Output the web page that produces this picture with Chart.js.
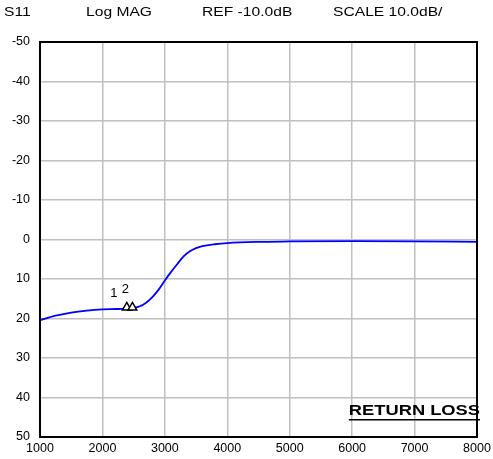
<!DOCTYPE html>
<html>
<head>
<meta charset="utf-8">
<script src="https://cdn.jsdelivr.net/npm/chart.js@4.4.1/dist/chart.umd.min.js"></script>
<style>
  body { margin: 0; background: #fff; }
  #c { display: block; }
</style>
</head>
<body>
<canvas id="c" width="493" height="459"></canvas>
<script>
// S11 trace, frequency (MHz) vs dB
const freqs  = [1000,1250,1500,1750,2000,2250,2500,2600,2700,2800,2900,3000,3100,3200,3300,3400,3500,3600,3800,4000,4500,5000,6000,7000,8000];
const s11    = [20.4,19.3,18.5,18.0,17.7,17.6,17.3,16.9,16.0,14.6,12.7,10.4,8.2,6.2,4.3,3.0,2.2,1.7,1.2,0.9,0.6,0.5,0.4,0.45,0.6];

const markerFreqs  = [2390, 2480];
const markerVals   = [17.2, 17.2];
const markerLabels = ["1", "2"];

const headerTexts = ["S11", "Log MAG", "REF -10.0dB", "SCALE 10.0dB/"];
const yTicks = [-50,-40,-30,-20,-10,0,10,20,30,40,50];
const xTicks = [1000,2000,3000,4000,5000,6000,7000,8000];

const font = "'Liberation Sans', Arial, sans-serif";

// header, box, marker numbers and the RETURN LOSS tag
const annot = {
  id: "annot",
  afterDraw(chart){
    const ctx = chart.ctx;
    const a = chart.chartArea;
    ctx.save();
    ctx.strokeStyle = "#000";
    ctx.lineWidth = 2;
    ctx.strokeRect(a.left, a.top, a.right - a.left, a.bottom - a.top);

    ctx.fillStyle = "#000";
    ctx.textBaseline = "middle";
    ctx.textAlign = "left";
    const hx = [4, 86, 202, 333];
    headerTexts.forEach((t, i) => {
      ctx.save();
      ctx.translate(hx[i], 13);
      ctx.scale(1.25, 1);
      ctx.font = "12.5px " + font;
      ctx.fillText(t, 0, 0);
      ctx.restore();
    });

    // marker numbers
    const meta = chart.getDatasetMeta(1);
    const offs = [[-13, -14], [-7, -18]];
    ctx.font = "13px " + font;
    ctx.textAlign = "center";
    meta.data.forEach((p, i) => {
      ctx.fillText(markerLabels[i], p.x + offs[i][0], p.y + offs[i][1]);
    });

    // RETURN LOSS
    ctx.save();
    ctx.translate(480, 411);
    ctx.scale(1.22, 1);
    ctx.font = "bold 15px " + font;
    ctx.textAlign = "right";
    ctx.fillText("RETURN LOSS", 0, 0);
    const w = ctx.measureText("RETURN LOSS").width;
    ctx.fillRect(-w, 8, w, 1.5);
    ctx.restore();
    ctx.restore();
  }
};

new Chart(document.getElementById("c"), {
  type: "line",
  data: {
    datasets: [
      {
        data: freqs.map((f, i) => ({ x: f, y: s11[i] })),
        borderColor: "#0000ff",
        borderWidth: 1.8,
        pointRadius: 0,
        cubicInterpolationMode: "monotone",
        fill: false,
        order: 2
      },
      {
        type: "scatter",
        data: markerFreqs.map((f, i) => ({ x: f, y: markerVals[i] })),
        pointStyle: "triangle",
        pointRadius: 5,
        backgroundColor: "#fff",
        borderColor: "#000",
        borderWidth: 1.5,
        order: 1
      }
    ]
  },
  options: {
    responsive: false,
    animation: false,
    layout: { padding: { top: 42, right: 16, left: 0, bottom: 0 } },
    plugins: { legend: { display: false }, tooltip: { enabled: false } },
    scales: {
      x: {
        type: "linear",
        min: 1000, max: 8000,
        afterBuildTicks: s => { s.ticks = xTicks.map(v => ({ value: v })); },
        afterFit: s => { s.height = 22; s.paddingLeft = 0; s.paddingRight = 0; },
        grid: { color: "#c0c0c0", lineWidth: 1.5, drawTicks: false },
        border: { display: false },
        ticks: { color: "#000", font: { family: font, size: 12.5 }, padding: 4, maxRotation: 0,
                 callback: v => String(v) }
      },
      y: {
        min: -50, max: 50,
        reverse: true,
        afterBuildTicks: s => { s.ticks = yTicks.map(v => ({ value: v })); },
        afterFit: s => { s.width = 40; s.paddingTop = 0; s.paddingBottom = 0; },
        grid: { color: "#c0c0c0", lineWidth: 1.5, drawTicks: false },
        border: { display: false },
        ticks: { color: "#000", font: { family: font, size: 12.5 }, padding: 10,
                 callback: v => String(v) }
      }
    }
  },
  plugins: [annot]
});
</script>
</body>
</html>
